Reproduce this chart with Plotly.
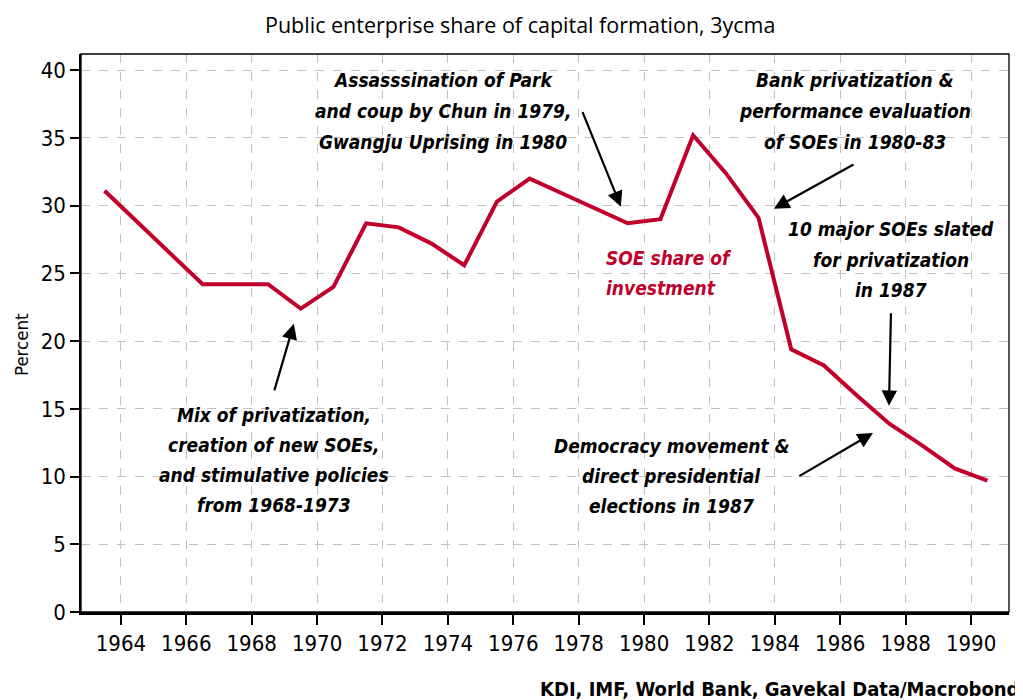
import plotly.graph_objects as go

# ---- data ----
years = [1963.5, 1964.5, 1965.5, 1966.5, 1967.5, 1968.5, 1969.5, 1970.5, 1971.5, 1972.5,
         1973.5, 1974.5, 1975.5, 1976.5, 1977.5, 1978.5, 1979.5, 1980.5, 1981.5, 1982.5,
         1983.5, 1984.5, 1985.5, 1986.5, 1987.5, 1988.5, 1989.5, 1990.5]
soe_share = [31.1, 28.8, 26.5, 24.2, 24.2, 24.2, 22.4, 24.0, 28.7, 28.4,
             27.2, 25.6, 30.3, 32.0, 30.9, 29.8, 28.7, 29.0, 35.2, 32.4,
             29.1, 19.4, 18.2, 16.0, 13.9, 12.3, 10.6, 9.7]
x_ticks = list(range(1964, 1991, 2))
x_tick_labels = [str(y) for y in x_ticks]
y_ticks = list(range(0, 41, 5))

RED = "#C0002B"
COND = "DejaVu Sans Condensed, Liberation Sans Narrow, sans-serif"
REG = "Open Sans, Noto Sans, DejaVu Sans, sans-serif"

fig = go.Figure()
fig.add_trace(go.Scatter(x=years, y=soe_share, mode="lines",
                         line=dict(color=RED, width=4), showlegend=False,
                         hoverinfo="x+y"))

# multi-line notes: (x, [line y positions], lines, anchor, color)
notes = [
    (1973.86, [39.3, 37.0, 34.7],
     ["Assasssination of Park", "and coup by Chun in 1979,", "Gwangju Uprising in 1980"],
     "center", "black"),
    (1986.45, [39.3, 37.0, 34.7],
     ["Bank privatization &", "performance evaluation", "of SOEs in 1980-83"],
     "center", "black"),
    (1987.55, [28.3, 26.0, 23.8],
     ["10 major SOEs slated", "for privatization", "in 1987"],
     "center", "black"),
    (1968.68, [14.55, 12.3, 10.1, 7.9],
     ["Mix of privatization,", "creation of new SOEs,", "and stimulative policies",
      "from 1968-1973"],
     "center", "black"),
    (1980.84, [12.25, 10.05, 7.85],
     ["Democracy movement &", "direct presidential", "elections in 1987"],
     "center", "black"),
    (1978.77, [26.15, 23.95],
     ["SOE share of", "investment"],
     "left", RED),
]
for x, ys, lines, anchor, color in notes:
    for yy, line in zip(ys, lines):
        fig.add_annotation(x=x, y=yy, text="<i><b>" + line + "</b></i>",
                           showarrow=False, xref="x", yref="y",
                           xanchor=anchor, yanchor="middle",
                           font=dict(family=COND, size=19, color=color))

# arrows (tail -> head, data coords)
arrows = [
    ((1978.10, 37.02), (1979.29, 29.93)),
    ((1986.45, 33.10), (1983.97, 29.78)),
    ((1987.55, 22.17), (1987.49, 15.22)),
    ((1968.68, 16.25), (1969.29, 21.28)),
    ((1984.70, 9.97), (1987.00, 13.22)),
]
for (tx, ty), (hx, hy) in arrows:
    fig.add_annotation(x=hx, y=hy, ax=tx, ay=ty, xref="x", yref="y",
                       axref="x", ayref="y", text="", showarrow=True,
                       arrowhead=2, arrowsize=1.4, arrowwidth=2.2,
                       arrowcolor="black")

# title, source, y title
fig.add_annotation(x=0.473, y=1.0, xref="paper", yref="paper", yshift=30,
                   text="Public enterprise share of capital formation, 3ycma",
                   showarrow=False, font=dict(family=REG, size=21.5, color="black"),
                   xanchor="center", yanchor="middle")
fig.add_annotation(x=1.0, y=0.0, xref="paper", yref="paper", yshift=-77, xshift=13,
                   text="<b>KDI, IMF, World Bank, Gavekal Data/Macrobond</b>",
                   showarrow=False, font=dict(family=COND, size=20, color="black"),
                   xanchor="right", yanchor="middle")
fig.add_annotation(x=0.0, y=0.4785, xref="paper", yref="paper", xshift=-59,
                   text="Percent", textangle=-90, showarrow=False,
                   font=dict(family=COND, size=18.5, color="black"),
                   xanchor="center", yanchor="middle")

# thin frame
fig.add_shape(type="rect", xref="paper", yref="paper", x0=0, y0=0, x1=1, y1=1,
              line=dict(color="black", width=1.3), layer="above")

# page body has an 8px margin: shrink the figure so the plot lands where the reference has it
fig.update_layout(
    width=1015, height=692,
    margin=dict(l=73, r=14, t=46, b=88),
    plot_bgcolor="white", paper_bgcolor="white",
    font=dict(family=COND, size=22, color="black"),
    xaxis=dict(range=[1962.78, 1991.16], tickmode="array", tickvals=x_ticks,
               ticktext=x_tick_labels, ticks="outside", ticklen=10, tickwidth=1.5,
               tickcolor="black", showgrid=True, gridcolor="#C2C2C2",
               griddash="dash", gridwidth=1.2, zeroline=False, automargin=False,
               showline=True, linecolor="black", linewidth=2.5,
               tickfont=dict(family=COND, size=22)),
    yaxis=dict(range=[0, 41.2], tickmode="array", tickvals=y_ticks,
               ticks="outside", ticklen=9, tickwidth=1.5, tickcolor="black",
               showgrid=True, gridcolor="#C2C2C2", griddash="dash", gridwidth=1.2,
               zeroline=False, showline=True, linecolor="black", linewidth=1.5,
               automargin=False, tickfont=dict(family=COND, size=22)),
)

fig.write_html("out.html")
